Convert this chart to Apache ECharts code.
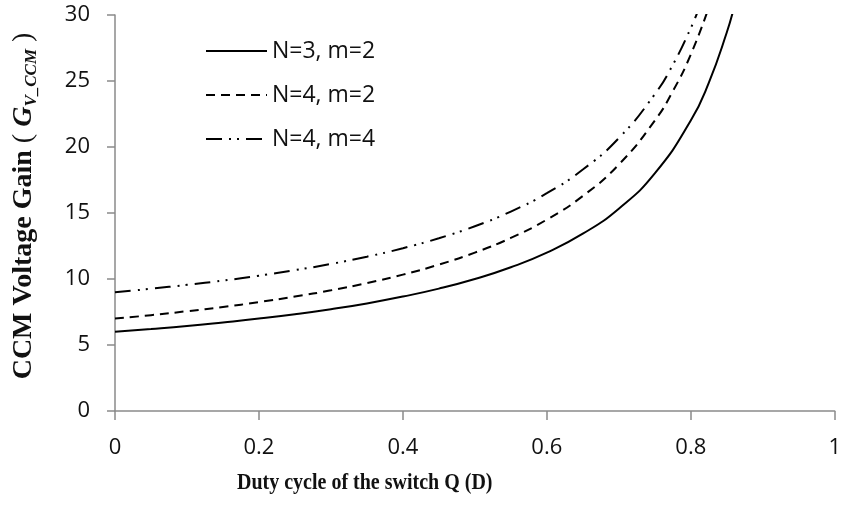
<!DOCTYPE html>
<html>
<head>
<meta charset="utf-8">
<script src="https://cdn.jsdelivr.net/npm/echarts@6/dist/echarts.min.js"></script>
<style>
  html, body { margin: 0; padding: 0; background: #fff; }
  #chart { width: 844px; height: 508px; }
</style>
</head>
<body>
<div id="chart"></div>
<script>
// Duty cycle D and CCM voltage gain for each converter configuration
var dutyA = [0, 0.05, 0.1, 0.15, 0.2, 0.25, 0.3, 0.35, 0.4, 0.45, 0.5, 0.55, 0.6, 0.65, 0.7, 0.75, 0.8, 0.825, 0.85, 0.86];
var gainN3m2 = [6.00, 6.21, 6.44, 6.71, 7.00, 7.33, 7.71, 8.15, 8.67, 9.27, 10.00, 10.89, 12.00, 13.43, 15.33, 18.00, 22.00, 24.86, 28.67, 30.57];

var dutyB = [0, 0.05, 0.1, 0.15, 0.2, 0.25, 0.3, 0.35, 0.4, 0.45, 0.5, 0.55, 0.6, 0.65, 0.7, 0.75, 0.775, 0.8, 0.825];
var gainN4m2 = [7.00, 7.26, 7.56, 7.88, 8.25, 8.67, 9.14, 9.69, 10.33, 11.09, 12.00, 13.11, 14.50, 16.29, 18.67, 22.00, 24.22, 27.00, 30.57];

var dutyC = [0, 0.05, 0.1, 0.15, 0.2, 0.25, 0.3, 0.35, 0.4, 0.45, 0.5, 0.55, 0.6, 0.65, 0.7, 0.75, 0.775, 0.8, 0.81];
var gainN4m4 = [9.00, 9.26, 9.56, 9.88, 10.25, 10.67, 11.14, 11.69, 12.33, 13.09, 14.00, 15.11, 16.50, 18.29, 20.67, 24.00, 26.22, 29.00, 30.32];

var seriesNames = ['N=3, m=2', 'N=4, m=2', 'N=4, m=4'];

function pairs(xs, ys) {
  return xs.map(function (x, i) { return [x, ys[i]]; });
}

var axisGray = '#8a8a8a';
var tickFont = '"Open Sans", "Noto Sans", sans-serif';
var serif = '"Liberation Serif", "DejaVu Serif", serif';

var chart = echarts.init(document.getElementById('chart'), null, { renderer: 'canvas' });

chart.setOption({
  animation: false,
  backgroundColor: '#fff',
  grid: { left: 115, right: 7, top: 15, bottom: 97, containLabel: false },
  legend: {
    orient: 'vertical',
    left: 205,
    top: 39,
    padding: 0,
    itemWidth: 61,
    itemHeight: 14,
    itemGap: 20,
    data: seriesNames,
    itemStyle: { opacity: 0 },
    textStyle: { fontFamily: tickFont, fontSize: 23, color: '#111', lineHeight: 24 }
  },
  xAxis: {
    type: 'value',
    min: 0, max: 1, interval: 0.2,
    axisLine: { show: true, lineStyle: { color: axisGray, width: 1.5 } },
    axisTick: { show: true, length: 9, lineStyle: { color: axisGray, width: 1.5 } },
    splitLine: { show: false },
    axisLabel: {
      margin: 26, fontFamily: tickFont, fontSize: 22, color: '#111',
      formatter: function (v) { return String(+v.toFixed(1)); }
    }
  },
  yAxis: {
    type: 'value',
    min: 0, max: 30, interval: 5,
    axisLine: { show: true, lineStyle: { color: axisGray, width: 1.5 } },
    axisTick: { show: true, length: 8, lineStyle: { color: axisGray, width: 1.5 } },
    splitLine: { show: false },
    axisLabel: { margin: 25, fontFamily: tickFont, fontSize: 22, color: '#111' }
  },
  series: [
    {
      name: seriesNames[0], type: 'line', smooth: true, symbol: 'none', clip: true,
      lineStyle: { color: '#000', width: 2, type: 'solid' },
      itemStyle: { color: '#000' },
      data: pairs(dutyA, gainN3m2)
    },
    {
      name: seriesNames[1], type: 'line', smooth: true, symbol: 'none', clip: true,
      lineStyle: { color: '#000', width: 2, type: [9, 6] },
      itemStyle: { color: '#000' },
      data: pairs(dutyB, gainN4m2)
    },
    {
      name: seriesNames[2], type: 'line', smooth: true, symbol: 'none', clip: true,
      lineStyle: { color: '#000', width: 2, type: [16, 7, 2, 6, 2, 7] },
      itemStyle: { color: '#000' },
      data: pairs(dutyC, gainN4m4)
    }
  ],
  graphic: [
    {
      type: 'text',
      x: 237, y: 483,
      scaleY: 1.13,
      style: {
        text: 'Duty cycle of the switch Q (D)',
        align: 'left', verticalAlign: 'middle',
        fontFamily: serif, fontWeight: 'bold', fontSize: 20, fill: '#111'
      }
    },
    {
      type: 'text',
      x: 24, y: 206,
      rotation: Math.PI / 2,
      style: {
        text: '{b|CCM Voltage Gain }{p|( }{g|G}{s|V_CCM}{p| )}',
        align: 'center', verticalAlign: 'middle',
        rich: {
          b: { fontFamily: serif, fontWeight: 'bold', fontSize: 28, fill: '#111', lineHeight: 32 },
          p: { fontFamily: serif, fontSize: 28, fill: '#111', lineHeight: 32 },
          g: { fontFamily: serif, fontStyle: 'italic', fontWeight: 'bold', fontSize: 28, fill: '#111', lineHeight: 32 },
          s: { fontFamily: serif, fontStyle: 'italic', fontWeight: 'bold', fontSize: 17, fill: '#111', lineHeight: 32, verticalAlign: 'bottom' }
        }
      }
    }
  ]
});
</script>
</body>
</html>
